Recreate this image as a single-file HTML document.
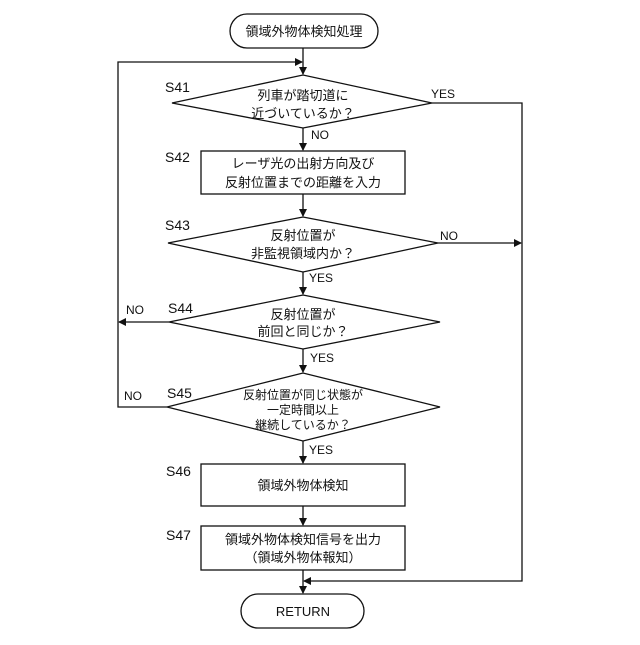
<!DOCTYPE html>
<html><head><meta charset="utf-8"><style>
body{margin:0;background:#fff}
svg text{font-family:"Liberation Sans","Noto Sans CJK JP",sans-serif;fill:#111}
</style></head><body>
<svg width="640" height="640" viewBox="0 0 640 640" xmlns="http://www.w3.org/2000/svg">
<defs><marker id="a" markerWidth="8" markerHeight="8" refX="7" refY="4" orient="auto" markerUnits="userSpaceOnUse"><path d="M0,0 L8,4 L0,8 z" fill="#111"/></marker></defs>
<g stroke="#111" stroke-width="1.3" fill="none">
<rect x="230" y="14" width="148" height="34" rx="17" fill="#fff"/>
<line x1="303" y1="48" x2="303" y2="74" marker-end="url(#a)"/>
<polygon points="172,103 303,75 432,103 303,128" fill="#fff"/>
<line x1="303" y1="128" x2="303" y2="150" marker-end="url(#a)"/>
<rect x="201" y="151" width="204" height="43" fill="#fff"/>
<line x1="303" y1="194" x2="303" y2="216" marker-end="url(#a)"/>
<polygon points="168,243 303,217 438,243 303,272" fill="#fff"/>
<line x1="303" y1="272" x2="303" y2="294" marker-end="url(#a)"/>
<polygon points="169,322 303,295 440,322 303,349" fill="#fff"/>
<line x1="303" y1="349" x2="303" y2="372" marker-end="url(#a)"/>
<polygon points="167,407 303,373 440,407 303,441" fill="#fff"/>
<line x1="303" y1="441" x2="303" y2="463" marker-end="url(#a)"/>
<rect x="201" y="464" width="204" height="42" fill="#fff"/>
<line x1="303" y1="506" x2="303" y2="525" marker-end="url(#a)"/>
<rect x="201" y="526" width="204" height="44" fill="#fff"/>
<line x1="303" y1="570" x2="303" y2="593" marker-end="url(#a)"/>
<rect x="241" y="594" width="123" height="34" rx="17" fill="#fff"/>
<polyline points="432,103 522,103 522,581 304,581" marker-end="url(#a)"/>
<line x1="438" y1="243" x2="521" y2="243" marker-end="url(#a)"/>
<polyline points="167,407 118,407 118,62 302,62" marker-end="url(#a)"/>
<line x1="169" y1="322" x2="119" y2="322" marker-end="url(#a)"/>
</g>
<g font-size="13" text-anchor="middle">
<text x="304" y="36">領域外物体検知処理</text>
<text x="303" y="100">列車が踏切道に</text>
<text x="303" y="118">近づいているか？</text>
<text x="303" y="168">レーザ光の出射方向及び</text>
<text x="303" y="187">反射位置までの距離を入力</text>
<text x="303" y="240">反射位置が</text>
<text x="303" y="258">非監視領域内か？</text>
<text x="303" y="319">反射位置が</text>
<text x="303" y="336">前回と同じか？</text>
<text x="303" y="399" font-size="12">反射位置が同じ状態が</text>
<text x="303" y="414" font-size="12">一定時間以上</text>
<text x="303" y="429" font-size="12">継続しているか？</text>
<text x="303" y="490">領域外物体検知</text>
<text x="303" y="544">領域外物体検知信号を出力</text>
<text x="303" y="562">（領域外物体報知）</text>
<text x="303" y="616">RETURN</text>
</g>
<g font-size="14">
<text x="165" y="92">S41</text><text x="165" y="162">S42</text><text x="165" y="230">S43</text>
<text x="168" y="313">S44</text><text x="167" y="398">S45</text><text x="166" y="476">S46</text><text x="166" y="540">S47</text>
</g>
<g font-size="12">
<text x="431" y="98">YES</text><text x="311" y="139">NO</text><text x="440" y="240">NO</text>
<text x="309" y="282">YES</text><text x="126" y="314">NO</text><text x="310" y="362">YES</text>
<text x="124" y="400">NO</text><text x="309" y="454">YES</text>
</g>
</svg>
</body></html>
